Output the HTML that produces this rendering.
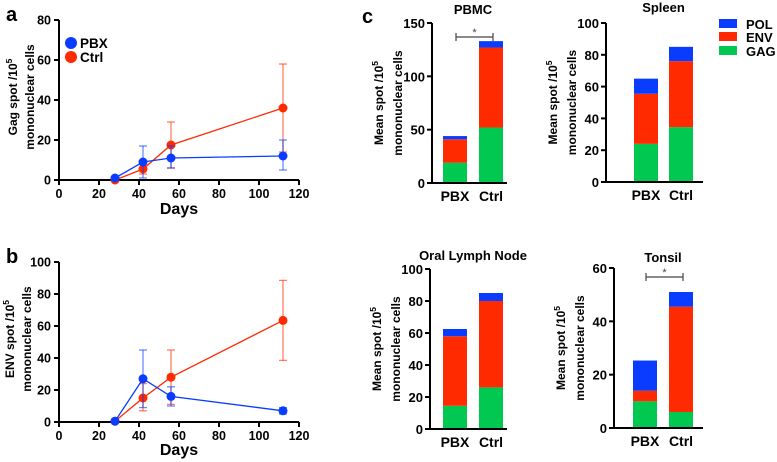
<!DOCTYPE html>
<html><head><meta charset="utf-8"><style>
html,body{margin:0;padding:0;background:#fff;}
svg{display:block;font-family:"Liberation Sans",Arial,sans-serif;font-weight:bold;}
</style></head><body>
<svg id="s" width="777" height="462" viewBox="0 0 777 462"></svg>
<script>
const days=[28,42,56,112];
const gagPBX=[1,9,11,12], gagPBXlo=[0,1,6,5], gagPBXhi=[1,17,17,20];
const gagCtrl=[0,5.5,17.5,36], gagCtrllo=[0,3,6,14], gagCtrlhi=[0,8,29,58];
const envPBX=[0.5,27,16,7], envPBXlo=[0,9,10,5], envPBXhi=[1,45,22,9];
const envCtrl=[0.5,15,28,63.5], envCtrllo=[0,7,11,38.5], envCtrlhi=[1,24,45,88.5];
const groups=["PBX","Ctrl"];
const pbmcGAG=[19,52], pbmcENV=[22,75], pbmcPOL=[3,6];
const spleenGAG=[24,34.5], spleenENV=[31.5,41.5], spleenPOL=[9.5,9];
const olnGAG=[14.5,26], olnENV=[43.5,54], olnPOL=[4.5,5];
const tonsilGAG=[10,6], tonsilENV=[4,39.5], tonsilPOL=[11.3,5.5];
const BLUE="#0a3cff", RED="#ff2a00", GREEN="#00c850";
const S=document.getElementById('s'), NS="http://www.w3.org/2000/svg";
function el(t,a,txt){const e=document.createElementNS(NS,t);for(const k in a)e.setAttribute(k,a[k]);if(txt!==undefined)e.textContent=txt;S.appendChild(e);return e;}
function ylab(x,y,l1,gap){
 const t=el('text',{x:0,y:0,'font-size':12,'text-anchor':'middle',transform:`translate(${x},${y}) rotate(-90)`});
 
 t.appendChild(document.createTextNode(l1+" /10"));
 const sp=document.createElementNS(NS,'tspan');sp.setAttribute('font-size',8.5);sp.setAttribute('dy',-5);sp.textContent="5";t.appendChild(sp);
 const t2=el('text',{x:0,y:0,'font-size':12,'text-anchor':'middle',transform:`translate(${x+gap},${y}) rotate(-90)`},"mononuclear cells");
 
}
function linePanel(letter,ly,y0,yTop,ymax,ystep,series,lab,dy,lx){
 const x0=59,x1=299;const X=v=>x0+(x1-x0)*v/120;const Y=v=>y0-(y0-yTop)*v/ymax;
 let t=el('text',{x:6,y:ly,'font-size':20},letter);
 el('line',{x1:x0,y1:yTop,x2:x0,y2:y0,stroke:'#000','stroke-width':2});
 el('line',{x1:x0,y1:y0,x2:x1,y2:y0,stroke:'#000','stroke-width':2});
 for(let v=0;v<=ymax;v+=ystep){el('line',{x1:x0-5,y1:Y(v),x2:x0,y2:Y(v),stroke:'#000','stroke-width':2});
  el('text',{x:x0-8,y:Y(v)+4.5,'font-size':12.5,'text-anchor':'end'},v);}
 for(let v=0;v<=120;v+=20){el('line',{x1:X(v),y1:y0,x2:X(v),y2:y0+5,stroke:'#000','stroke-width':2});
  el('text',{x:X(v),y:y0+18,'font-size':12.5,'text-anchor':'middle'},v);}
 t=el('text',{x:179,y:y0+dy,'font-size':16,'text-anchor':'middle'},"Days");
 ylab(lx,(y0+yTop)/2-3,lab,17);
 series.forEach(s=>{
  const pts=days.map((d,i)=>X(d)+','+Y(s.v[i])).join(' ');
  const pl=el('polyline',{points:pts,fill:'none',stroke:s.c,'stroke-width':1.3});
  
  days.forEach((d,i)=>{
   el('line',{x1:X(d),y1:Y(s.lo[i]),x2:X(d),y2:Y(s.hi[i]),stroke:s.c,'stroke-width':1.3,opacity:0.6});
   el('line',{x1:X(d)-4,y1:Y(s.lo[i]),x2:X(d)+4,y2:Y(s.lo[i]),stroke:s.c,'stroke-width':1.3,opacity:0.6});
   el('line',{x1:X(d)-4,y1:Y(s.hi[i]),x2:X(d)+4,y2:Y(s.hi[i]),stroke:s.c,'stroke-width':1.3,opacity:0.6});
   const c=el('circle',{cx:X(d),cy:Y(s.v[i]),r:4.5,fill:s.c});
   
  });
 });
}
linePanel('a',21,180,20,80,20,[
 {n:'ctrl',c:RED,v:gagCtrl,lo:gagCtrllo,hi:gagCtrlhi},
 {n:'pbx',c:BLUE,v:gagPBX,lo:gagPBXlo,hi:gagPBXhi}],"Gag spot",34,17);
linePanel('b',263,422,262,100,20,[
 {n:'ctrl',c:RED,v:envCtrl,lo:envCtrllo,hi:envCtrlhi},
 {n:'pbx',c:BLUE,v:envPBX,lo:envPBXlo,hi:envPBXhi}],"ENV spot",33,14);
[["PBX",BLUE,43],["Ctrl",RED,57]].forEach(([n,c,y])=>{
 const ci=el('circle',{cx:71,cy:y,r:6,fill:c});
 const t=el('text',{x:80,y:y+5,'font-size':13.5},n);
});
let tc=el('text',{x:362,y:23,'font-size':20},"c");
function barPanel(title,ax,axEnd,y0,yTop,ymax,ystep,bx,G,E,P,sig,ty){
 const Y=v=>y0-(y0-yTop)*v/ymax;
 let t=el('text',{x:(bx[0]+bx[1]+24)/2,y:ty,'font-size':13,'text-anchor':'middle'},title);
 
 groups.forEach((g,i)=>{
  const x=bx[i];let base=0;
  [[G,GREEN,'gag'],[E,RED,'env'],[P,BLUE,'pol']].forEach(([arr,c,n])=>{
   const r=el('rect',{x:x,y:Y(base+arr[i]),width:24,height:Y(base)-Y(base+arr[i]),fill:c});
   
   base+=arr[i];
  });
  el('text',{x:x+12,y:y0+18,'font-size':14,'text-anchor':'middle'},g);
 });
 el('line',{x1:ax,y1:yTop,x2:ax,y2:y0,stroke:'#000','stroke-width':2});
 el('line',{x1:ax,y1:y0,x2:axEnd,y2:y0,stroke:'#000','stroke-width':2});
 for(let v=0;v<=ymax;v+=ystep){el('line',{x1:ax-5,y1:Y(v),x2:ax,y2:Y(v),stroke:'#000','stroke-width':2});
  el('text',{x:ax-7,y:Y(v)+5,'font-size':13,'text-anchor':'end'},v);}
 ylab(ax-49,(y0+yTop)/2,"Mean spot",19);
 if(sig){const yy=sig;const a=bx[0]+13,b=bx[1]+14;
  el('line',{x1:a,y1:yy,x2:b,y2:yy,stroke:'#444','stroke-width':1.2});
  el('line',{x1:a,y1:yy-4,x2:a,y2:yy+4,stroke:'#444','stroke-width':1.2});
  el('line',{x1:b,y1:yy-4,x2:b,y2:yy+4,stroke:'#444','stroke-width':1.2});
  const s=el('text',{x:(a+b)/2,y:yy-1,'font-size':11,'font-weight':'normal','text-anchor':'middle',fill:'#444'},"*");
  }
}
barPanel("PBMC",432,507,183,23,150,50,[443,479],pbmcGAG,pbmcENV,pbmcPOL,37,14);
barPanel("Spleen",606,703,182,23,100,20,[634,669],spleenGAG,spleenENV,spleenPOL,0,12);
barPanel("Oral Lymph Node",430,507,429,269,100,20,[443,479],olnGAG,olnENV,olnPOL,0,260);
barPanel("Tonsil",614,703,428,268,60,20,[633,669],tonsilGAG,tonsilENV,tonsilPOL,277,262);
[["POL",BLUE,19],["ENV",RED,32],["GAG",GREEN,46]].forEach(([n,c,y])=>{
 const r=el('rect',{x:719,y:y,width:18,height:9,fill:c});
 const t=el('text',{x:746,y:y+10,'font-size':13},n);
});
</script>
</body></html>
